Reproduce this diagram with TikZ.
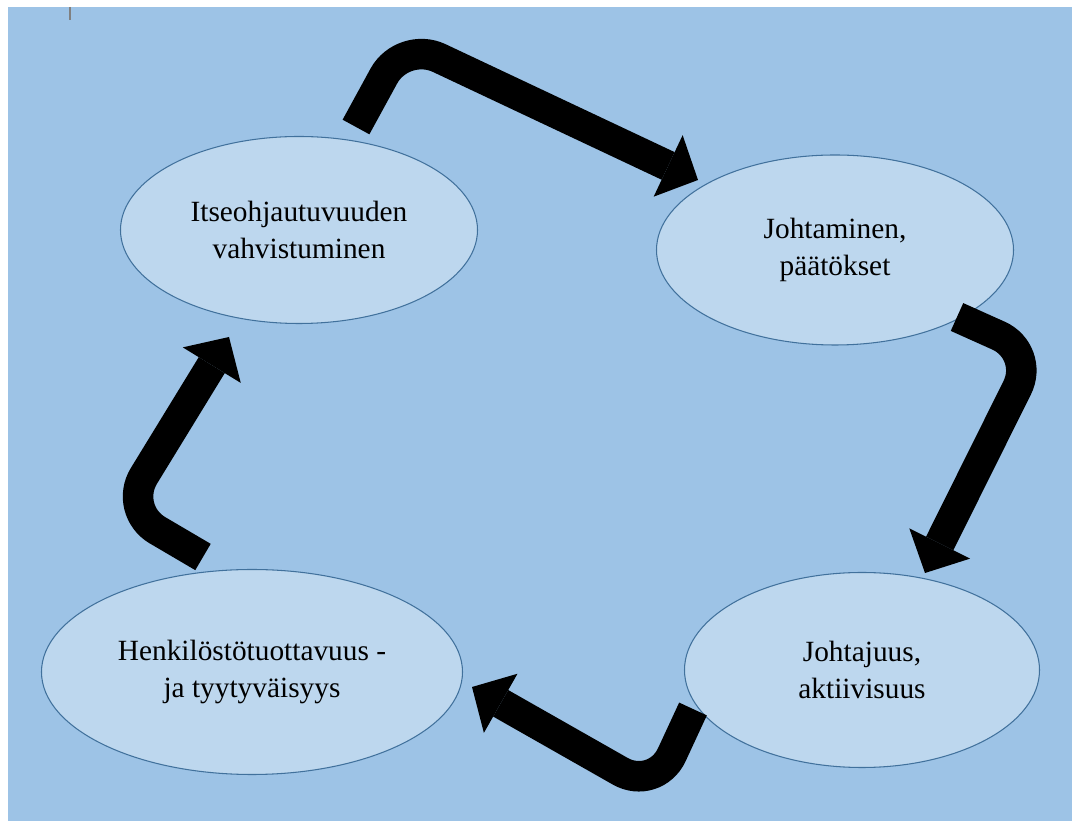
\documentclass[tikz,border=0pt]{standalone}
\usepackage{fontspec}
\setmainfont{Liberation Serif}
\usetikzlibrary{arrows.meta,shapes.geometric}
\definecolor{bgblue}{HTML}{9DC3E6}
\definecolor{ellfill}{HTML}{BDD7EE}
\definecolor{ellline}{HTML}{41719C}
\tikzset{
    phase/.style={ellipse, draw=ellline, fill=ellfill, line width=0.6pt, inner sep=0mm,
        align=center, font=\fontsize{16.7}{21}\selectfont}
}
\tikzset{
    bentarrow/.style={line width=0.61cm, rounded corners=0.8cm,
        -{Triangle[width=1.36cm, length=0.66cm, line width=0pt]}}
}
\begin{document}
\begin{tikzpicture}
    \useasboundingbox (0cm, 0cm) rectangle (21.44cm, 16.42cm);
    \fill[bgblue] (0.16cm, 0cm) rectangle (21.44cm, 16.28cm);
    \coordinate (cur1) at (1.40cm, 16.28cm);
    \coordinate (cur2) at (1.40cm, 16.02cm);
    \draw[line width=1.2pt, gray] (cur1) -- (cur2);

    \node (itse) at (5.98cm, 11.82cm) [phase, minimum width=7.14cm, minimum height=3.74cm] {Itseohjautuvuuden\\vahvistuminen};
    \node (johto) at (16.70cm, 11.42cm) [phase, minimum width=7.14cm, minimum height=3.80cm] {Johtaminen,\\päätökset};
    \node (johta) at (17.24cm, 3.02cm) [phase, minimum width=7.10cm, minimum height=3.90cm] {Johtajuus,\\aktiivisuus};
    \node (henk) at (5.04cm, 2.98cm) [phase, minimum width=8.42cm, minimum height=4.10cm] {Henkilöstötuottavuus -\\ja tyytyväisyys};

    % bent arrows
    \coordinate (a1s) at (7.12cm, 13.88cm);
    \coordinate (a1c) at (8.06cm, 15.60cm);
    \coordinate (a1t) at (13.96cm, 12.82cm);
    \coordinate (a2s) at (19.14cm, 10.08cm);
    \coordinate (a2c) at (20.70cm, 9.38cm);
    \coordinate (a2t) at (18.50cm, 4.96cm);
    \coordinate (a3s) at (13.86cm, 2.24cm);
    \coordinate (a3c) at (13.10cm, 0.60cm);
    \coordinate (a3t) at (9.44cm, 2.68cm);
    \coordinate (a4s) at (4.06cm, 5.28cm);
    \coordinate (a4c) at (2.46cm, 6.22cm);
    \coordinate (a4t) at (4.58cm, 9.68cm);

    \draw[bentarrow] (a1s) -- (a1c) -- (a1t);
    \draw[bentarrow] (a2s) -- (a2c) -- (a2t);
    \draw[bentarrow] (a3s) -- (a3c) -- (a3t);
    \draw[bentarrow] (a4s) -- (a4c) -- (a4t);
\end{tikzpicture}
\end{document}
